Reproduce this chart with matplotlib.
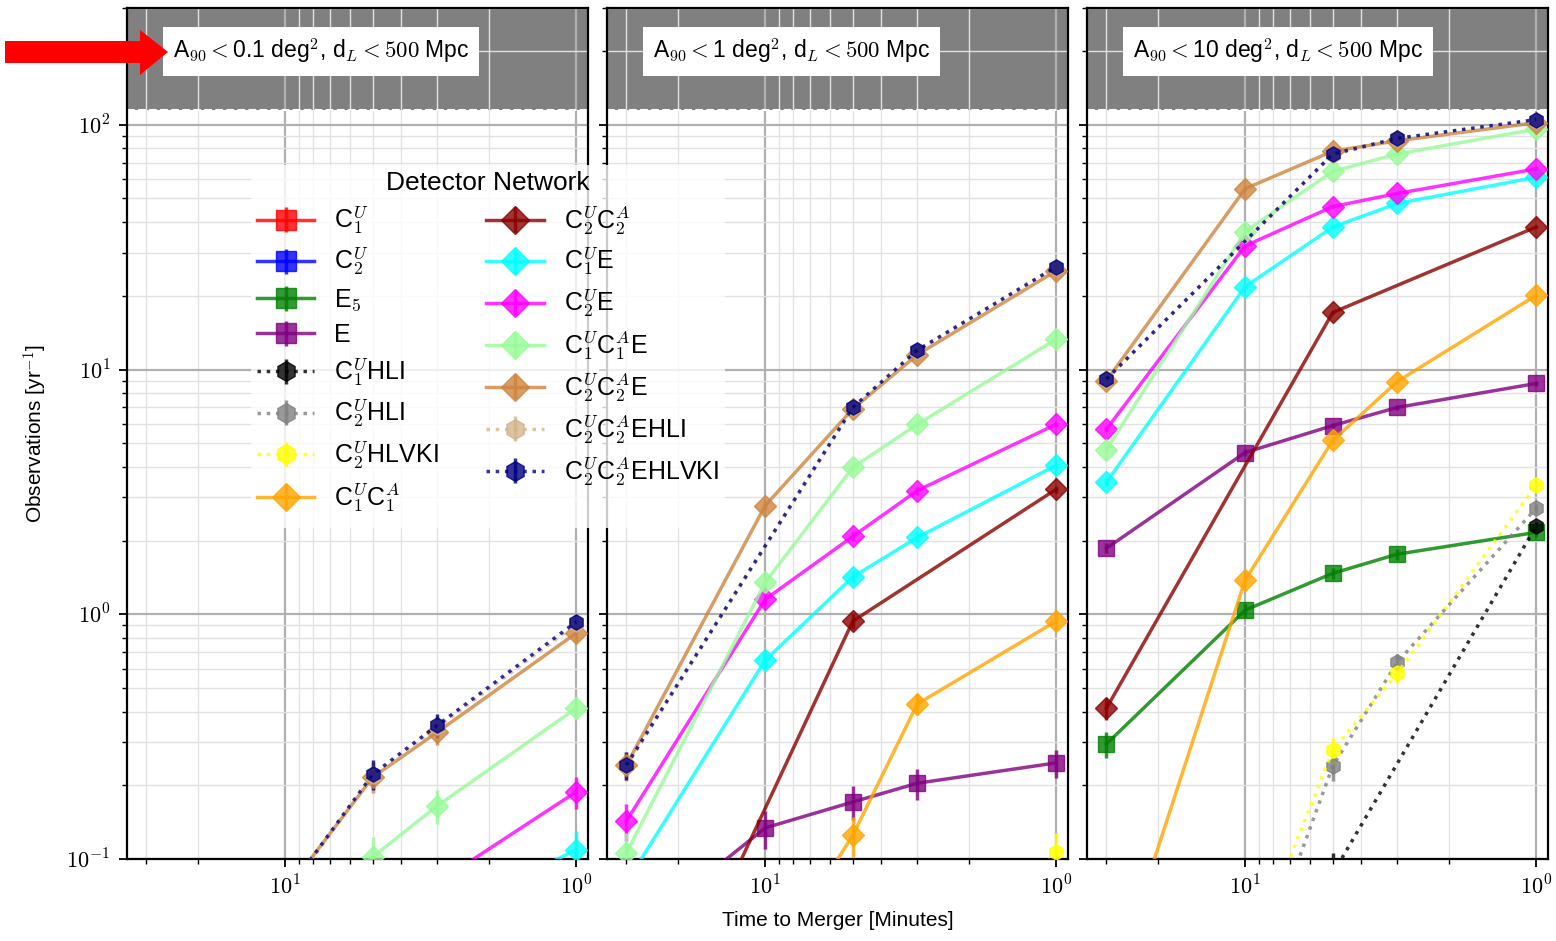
import numpy as np
import matplotlib
matplotlib.use('Agg')
import matplotlib.pyplot as plt
from matplotlib.ticker import FixedLocator, FuncFormatter, NullFormatter, LogLocator
from matplotlib.patches import Polygon
from matplotlib.lines import Line2D

plt.rcParams['font.family'] = ['Liberation Sans', 'DejaVu Sans']
plt.rcParams['mathtext.fontset'] = 'cm'

# ---------------- data ----------------
X_FULL = [30, 10, 5, 3, 1]
X_HLI = [30, 5, 3, 1]
X_SPARSE = [30, 5, 1]

PANEL_TITLES = [r'A$_{90} <$0.1 deg$^2$, d$_L < 500$ Mpc',
                r'A$_{90} <$1 deg$^2$, d$_L < 500$ Mpc',
                r'A$_{90} <$10 deg$^2$, d$_L < 500$ Mpc']

LIMIT_LINE = 115  # upper shaded region boundary [yr^-1]

# values per panel: (A90<0.1, A90<1, A90<10)
C1U = [[0.001, 0.002, 0.004, 0.006, 0.012],
       [0.002, 0.004, 0.008, 0.012, 0.03],
       [0.003, 0.008, 0.015, 0.025, 0.06]]
C2U = [[0.001, 0.002, 0.005, 0.007, 0.015],
       [0.002, 0.005, 0.01, 0.015, 0.035],
       [0.004, 0.01, 0.02, 0.03, 0.07]]
E5 = [[0.001, 0.003, 0.005, 0.008, 0.02],
      [0.005, 0.02, 0.03, 0.04, 0.06],
      [0.295, 1.04, 1.47, 1.76, 2.16]]
E_ = [[0.002, 0.005, 0.01, 0.015, 0.03],
      [0.047, 0.134, 0.171, 0.204, 0.247],
      [1.86, 4.58, 5.9, 7.0, 8.77]]
C1U_HLI = [[0.0001, 0.001, 0.005],
           [0.0001, 0.005, 0.03],
           [0.0005, 0.087, 2.29]]
C2U_HLI = [[0.0001, 0.001, 0.003, 0.01],
           [0.0001, 0.003, 0.01, 0.05],
           [0.0007, 0.24, 0.637, 2.71]]
C2U_HLVKI = [[0.0001, 0.002, 0.005, 0.02],
             [0.0001, 0.005, 0.02, 0.107],
             [0.0013, 0.279, 0.574, 3.36]]
C1U_C1A = [[0.0001, 0.001, 0.005, 0.01, 0.03],
           [0.002, 0.034, 0.125, 0.43, 0.937],
           [0.025, 1.38, 5.13, 8.93, 20.1]]
C2U_C2A = [[0.0001, 0.005, 0.05],
           [0.0099, 0.937, 3.24],
           [0.413, 17.1, 38.2]]
C1U_E = [[0.001, 0.01, 0.03, 0.057, 0.109],
         [0.080, 0.649, 1.42, 2.06, 4.06],
         [3.46, 21.8, 38.2, 47.7, 61.0]]
C2U_E = [[0.002, 0.02, 0.05, 0.08, 0.188],
         [0.143, 1.15, 2.08, 3.2, 5.97],
         [5.7, 32.0, 46.3, 52.4, 66.0]]
C1U_C1A_E = [[0.003, 0.04, 0.102, 0.165, 0.413],
             [0.106, 1.35, 3.98, 5.97, 13.3],
             [4.71, 36.6, 64.5, 76.0, 96.0]]
C2U_C2A_E = [[0.01, 0.073, 0.216, 0.33, 0.837],
             [0.242, 2.78, 6.9, 11.5, 25.3],
             [9.0, 54.8, 78.0, 86.0, 102.0]]
C2U_C2A_EHLI = [[0.012, 0.218, 0.345, 0.91],
                [0.24, 6.95, 11.9, 26.0],
                [9.1, 75.5, 87.5, 104.0]]
C2U_C2A_EHLVKI = [[0.012, 0.222, 0.352, 0.93],
                  [0.242, 7.0, 12.0, 26.3],
                  [9.15, 76.0, 88.0, 105.0]]

LABELS = [r'C$_1^U$', r'C$_2^U$', r'E$_5$', 'E',
          r'C$_1^U$HLI', r'C$_2^U$HLI', r'C$_2^U$HLVKI', r'C$_1^U$C$_1^A$',
          r'C$_2^U$C$_2^A$', r'C$_1^U$E', r'C$_2^U$E', r'C$_1^U$C$_1^A$E',
          r'C$_2^U$C$_2^A$E', r'C$_2^U$C$_2^A$EHLI', r'C$_2^U$C$_2^A$EHLVKI']
# ---------------------------------------

series = [
    (LABELS[0], C1U, X_FULL, 'red', 's', '-'),
    (LABELS[1], C2U, X_FULL, 'blue', 's', '-'),
    (LABELS[2], E5, X_FULL, 'green', 's', '-'),
    (LABELS[3], E_, X_FULL, 'purple', 's', '-'),
    (LABELS[4], C1U_HLI, X_SPARSE, 'black', 'h', ':'),
    (LABELS[5], C2U_HLI, X_HLI, 'grey', 'h', ':'),
    (LABELS[6], C2U_HLVKI, X_HLI, 'yellow', 'h', ':'),
    (LABELS[7], C1U_C1A, X_FULL, 'orange', 'D', '-'),
    (LABELS[8], C2U_C2A, X_SPARSE, 'darkred', 'D', '-'),
    (LABELS[9], C1U_E, X_FULL, 'cyan', 'D', '-'),
    (LABELS[10], C2U_E, X_FULL, 'magenta', 'D', '-'),
    (LABELS[11], C1U_C1A_E, X_FULL, 'palegreen', 'D', '-'),
    (LABELS[12], C2U_C2A_E, X_FULL, 'peru', 'D', '-'),
    (LABELS[13], C2U_C2A_EHLI, X_HLI, 'tan', 'h', ':'),
    (LABELS[14], C2U_C2A_EHLVKI, X_HLI, 'navy', 'h', ':'),
]

W, H = 1556, 941
fig, axes = plt.subplots(1, 3, figsize=(W / 100, H / 100), dpi=100, sharey=True)
fig.subplots_adjust(left=127 / W, right=1548 / W, top=1 - 8 / H, bottom=1 - 859 / H,
                    wspace=0.041)

def pow_fmt(v, pos):
    k = int(round(np.log10(v)))
    return r'$10^{%d}$' % k

handles = []
for i, ax in enumerate(axes):
    ax.set_xscale('log')
    ax.set_yscale('log')
    ax.set_xlim(35, 0.91)
    ax.set_ylim(0.1, 300)
    ax.axhspan(LIMIT_LINE, 1000, color='#808080', zorder=1, lw=0)
    ax.axhline(LIMIT_LINE, color='white', ls='--', lw=1.5, zorder=1.6)
    for (lab, vals, xs, col, mk, ls) in series:
        y = np.array(vals[i], dtype=float)
        yerr = 0.065 * np.sqrt(y)
        c = ax.errorbar(xs, y, yerr=yerr, fmt=mk, ls=ls, color=col, ms=11,
                        lw=2.5, elinewidth=2.5, capsize=0, alpha=0.8,
                        label=lab, zorder=3)
        if i == 0:
            handles.append(c)
    ax.xaxis.set_major_locator(FixedLocator([1, 10]))
    ax.xaxis.set_major_formatter(FuncFormatter(pow_fmt))
    ax.xaxis.set_minor_locator(LogLocator(base=10, subs=np.arange(2, 10)))
    ax.xaxis.set_minor_formatter(NullFormatter())
    ax.yaxis.set_major_locator(FixedLocator([0.1, 1, 10, 100]))
    ax.yaxis.set_major_formatter(FuncFormatter(pow_fmt))
    ax.yaxis.set_minor_locator(LogLocator(base=10, subs=np.arange(2, 10)))
    ax.yaxis.set_minor_formatter(NullFormatter())
    ax.grid(which='major', color='#b0b0b0', lw=1.6)
    ax.grid(which='minor', color='#e2e2e2', lw=1.0)
    ax.tick_params(which='major', length=6, width=1.3, labelsize=16, pad=6)
    ax.tick_params(which='minor', length=3.5, width=1.0)
    for sp in ax.spines.values():
        sp.set_linewidth(1.6)
    ax.text(0.0998, 0.949, PANEL_TITLES[i], transform=ax.transAxes, fontsize=16.5,
            ha='left', va='center', zorder=6,
            bbox=dict(boxstyle='square,pad=0.42', facecolor='white', edgecolor='none'))

axes[0].set_ylabel(r'Observations [yr$^{-1}$]', fontsize=15, labelpad=12)
axes[1].set_xlabel('Time to Merger [Minutes]', fontsize=15, labelpad=8)

blank = Line2D([], [], color='none')
leg_handles = handles[:8] + handles[8:] + [blank]
leg_labels = LABELS[:8] + LABELS[8:] + ['']
leg = fig.legend(leg_handles, leg_labels, ncol=2, loc='upper left',
                 bbox_to_anchor=(238 / W, 1 - 152 / H), fontsize=18,
                 title='Detector Network', title_fontsize=19, framealpha=0.8,
                 edgecolor='none', fancybox=False, handlelength=2.3,
                 handletextpad=0.8, columnspacing=1.9, labelspacing=0.38,
                 borderpad=0.25, markerscale=1.3)

# red arrow pointing at the first panel label
pts_px = [(5, 41), (140, 41), (140, 30), (168, 52), (140, 75), (140, 63), (5, 63)]
pts = [(px / W, 1 - py / H) for px, py in pts_px]
fig.patches.append(Polygon(pts, closed=True, transform=fig.transFigure,
                           facecolor='red', edgecolor='none', zorder=10))

fig.savefig('out.png', dpi=100)
